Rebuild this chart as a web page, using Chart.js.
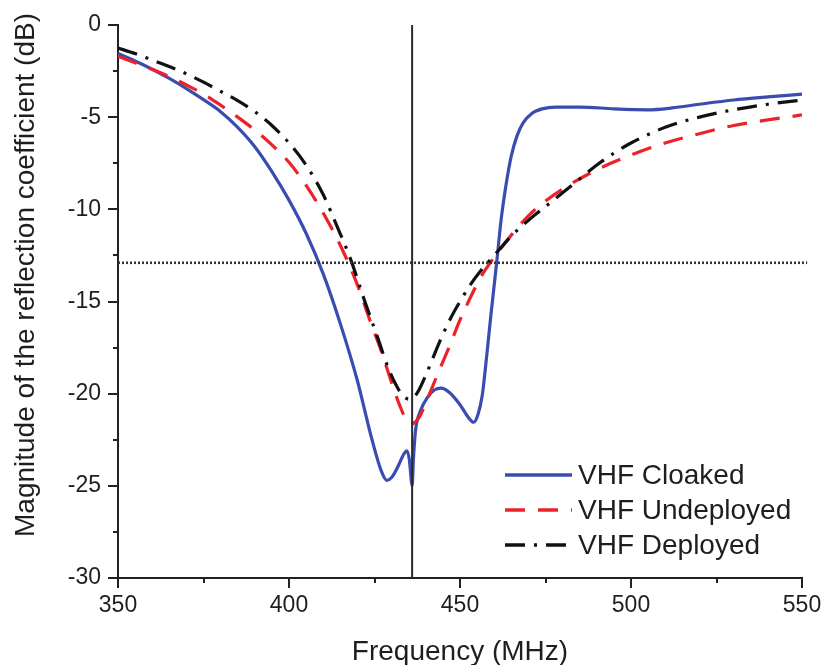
<!DOCTYPE html>
<html>
<head>
<meta charset="utf-8">
<title>Reflection coefficient</title>
<script src="https://cdn.jsdelivr.net/npm/chart.js@4.4.1/dist/chart.umd.min.js"></script>
<style>
  html, body { margin: 0; padding: 0; background: #ffffff; }
  #wrap { width: 826px; height: 665px; }
</style>
</head>
<body>
<div id="wrap"><canvas id="c" width="826" height="665"></canvas></div>
<script>
// ---- data ----
const cloakedFreq = [350, 355, 360, 365, 370, 375, 380, 385, 390, 395, 400, 405, 410, 415, 420, 424, 427, 428.6, 430, 432, 433.5, 434.5, 435.2, 435.7, 436, 436.4, 437, 438.5, 440.5, 442.5, 444.5, 447, 450, 452.5, 454, 455.3, 456.5, 457.5, 459, 460.8, 462, 463.7, 465, 466.7, 468.5, 471, 474, 478, 485, 495, 505, 512, 520, 530, 540, 550];
const cloakedDb   = [-1.55, -1.95, -2.4, -2.9, -3.45, -4.05, -4.7, -5.55, -6.6, -7.95, -9.5, -11.3, -13.5, -16.2, -19.3, -22.3, -24.2, -24.7, -24.55, -23.9, -23.3, -23.1, -23.6, -24.6, -25.0, -23.5, -22.0, -20.9, -20.2, -19.8, -19.7, -19.95, -20.6, -21.3, -21.55, -21.1, -20.1, -18.5, -15.8, -12.75, -10.6, -8.4, -7.1, -6.0, -5.3, -4.8, -4.55, -4.45, -4.45, -4.55, -4.6, -4.5, -4.3, -4.07, -3.9, -3.75];

const undeployedFreq = [350, 355, 360, 365, 370, 375, 380, 385, 390, 395, 400, 405, 410, 415, 420, 424, 427, 430, 432.5, 434.5, 435.5, 436.5, 438, 440, 442, 444, 447, 450, 453, 456, 460, 465, 470, 475, 480, 490, 500, 510, 520, 530, 540, 550];
const undeployedDb   = [-1.7, -2.05, -2.4, -2.8, -3.25, -3.75, -4.35, -5.0, -5.7, -6.5, -7.45, -8.7, -10.2, -11.95, -14.1, -16.2, -17.7, -19.4, -20.7, -21.5, -21.65, -21.6, -21.3, -20.5, -19.6, -18.7, -17.4, -16.0, -14.8, -13.7, -12.6, -11.4, -10.35, -9.55, -8.9, -7.85, -7.05, -6.4, -5.9, -5.45, -5.15, -4.88];

const deployedFreq = [350, 355, 360, 365, 370, 375, 380, 385, 390, 395, 400, 405, 410, 414, 418, 422, 426, 429, 431.5, 433.5, 435.2, 436.5, 438, 440, 442, 444, 447, 450, 453, 456, 460, 465, 470, 475, 480, 485, 490, 495, 500, 510, 520, 530, 540, 550];
const deployedDb   = [-1.25, -1.55, -1.9, -2.25, -2.65, -3.1, -3.6, -4.1, -4.7, -5.45, -6.4, -7.6, -9.2, -10.9, -12.7, -14.9, -17.0, -18.6, -19.6, -20.15, -20.3, -20.2, -19.8, -19.0, -18.1, -17.2, -16.0, -15.0, -14.1, -13.35, -12.5, -11.45, -10.6, -9.85, -9.1, -8.35, -7.6, -6.95, -6.4, -5.55, -5.0, -4.6, -4.3, -4.07];

const seriesNames = ["VHF Cloaked", "VHF Undeployed", "VHF Deployed"];
const markerFreq = 436;      // vertical reference line (MHz)
const thresholdDb = -12.9;   // horizontal dotted reference line (dB)
const xTickValues = [350, 400, 450, 500, 550];
const yTickValues = [0, -5, -10, -15, -20, -25, -30];

// ---- styles ----
const FONT = '"Liberation Sans", Arial, "DejaVu Sans", sans-serif';
const AXIS_COLOR = '#222222';
const TEXT_COLOR = '#1e1e1e';
const styles = [
  { color: '#3b4cb0', dash: [] },
  { color: '#ee2028', dash: [20, 13] },
  { color: '#111111', dash: [20, 9, 3, 9] }
];

function pts(fx, fy) { return fx.map((f, i) => ({ x: f, y: fy[i] })); }

const curveDatasets = [
  { label: seriesNames[2], data: pts(deployedFreq, deployedDb), borderColor: styles[2].color, borderDash: styles[2].dash },
  { label: seriesNames[1], data: pts(undeployedFreq, undeployedDb), borderColor: styles[1].color, borderDash: styles[1].dash },
  { label: seriesNames[0], data: pts(cloakedFreq, cloakedDb), borderColor: styles[0].color, borderDash: styles[0].dash }
].map(d => Object.assign(d, {
  borderWidth: 3.2, pointRadius: 0, fill: false,
  cubicInterpolationMode: 'monotone', borderCapStyle: 'butt'
}));

const refDatasets = [
  { label: 'marker', data: [{ x: markerFreq, y: 0 }, { x: markerFreq, y: -30 }],
    borderColor: '#2a2a2a', borderWidth: 2, pointRadius: 0, fill: false },
  { label: 'threshold', data: [{ x: 350, y: thresholdDb }, { x: 551.5, y: thresholdDb }],
    borderColor: '#333333', borderWidth: 2.6, borderDash: [2, 2], pointRadius: 0, fill: false, clip: false }
];

// ---- plugins: minor ticks, axis titles, legend ----
const extras = {
  id: 'extras',
  afterDraw(chart) {
    const ctx = chart.ctx;
    const xs = chart.scales.x, ys = chart.scales.y;
    const ca = chart.chartArea;
    ctx.save();
    // minor ticks
    ctx.strokeStyle = AXIS_COLOR;
    ctx.lineWidth = 2;
    ctx.beginPath();
    [375, 425, 475, 525].forEach(v => {
      const px = Math.round(xs.getPixelForValue(v));
      ctx.moveTo(px, ca.bottom); ctx.lineTo(px, ca.bottom + 5);
    });
    [-2.5, -7.5, -12.5, -17.5, -22.5, -27.5].forEach(v => {
      const py = Math.round(ys.getPixelForValue(v));
      ctx.moveTo(ca.left, py); ctx.lineTo(ca.left - 5, py);
    });
    ctx.stroke();

    // axis titles
    ctx.fillStyle = TEXT_COLOR;
    ctx.font = '28px ' + FONT;
    ctx.textAlign = 'center';
    ctx.textBaseline = 'alphabetic';
    ctx.fillText('Frequency (MHz)', (ca.left + ca.right) / 2, 660);
    ctx.save();
    ctx.translate(34, 275);
    ctx.rotate(-Math.PI / 2);
    ctx.fillText('Magnitude of the reflection coefficient (dB)', 0, 0);
    ctx.restore();

    // legend
    const rows = [475, 510, 545];
    ctx.font = '28px ' + FONT;
    ctx.textAlign = 'left';
    ctx.textBaseline = 'middle';
    for (let i = 0; i < 3; i++) {
      const y = rows[i];
      ctx.save();
      ctx.strokeStyle = styles[i].color;
      ctx.lineWidth = 3.4;
      ctx.setLineDash(styles[i].dash);
      ctx.beginPath();
      ctx.moveTo(505, y); ctx.lineTo(572, y);
      ctx.stroke();
      ctx.restore();
      ctx.fillStyle = TEXT_COLOR;
      ctx.fillText(seriesNames[i], 578, y + 1);
    }
    ctx.restore();
  }
};

new Chart(document.getElementById('c'), {
  type: 'line',
  data: { datasets: refDatasets.concat(curveDatasets) },
  options: {
    responsive: false,
    animation: false,
    devicePixelRatio: 1,
    layout: { padding: { left: 0, top: 25, right: 24, bottom: 0 } },
    plugins: { legend: { display: false }, tooltip: { enabled: false } },
    scales: {
      x: {
        type: 'linear', min: 350, max: 550,
        afterFit(s) { s.height = 87; },
        afterBuildTicks(s) { s.ticks = xTickValues.map(v => ({ value: v })); },
        ticks: { color: TEXT_COLOR, font: { family: FONT, size: 23 }, padding: 4, maxRotation: 0 },
        grid: { drawOnChartArea: false, drawTicks: true, tickLength: 10, color: AXIS_COLOR, lineWidth: 2 },
        border: { display: true, color: AXIS_COLOR, width: 2 }
      },
      y: {
        type: 'linear', min: -30, max: 0,
        afterFit(s) { s.width = 118; },
        afterBuildTicks(s) { s.ticks = yTickValues.map(v => ({ value: v })); },
        ticks: { color: TEXT_COLOR, font: { family: FONT, size: 23 }, padding: 7 },
        grid: { drawOnChartArea: false, drawTicks: true, tickLength: 10, color: AXIS_COLOR, lineWidth: 2 },
        border: { display: true, color: AXIS_COLOR, width: 2 }
      }
    }
  },
  plugins: [extras]
});
</script>
</body>
</html>
